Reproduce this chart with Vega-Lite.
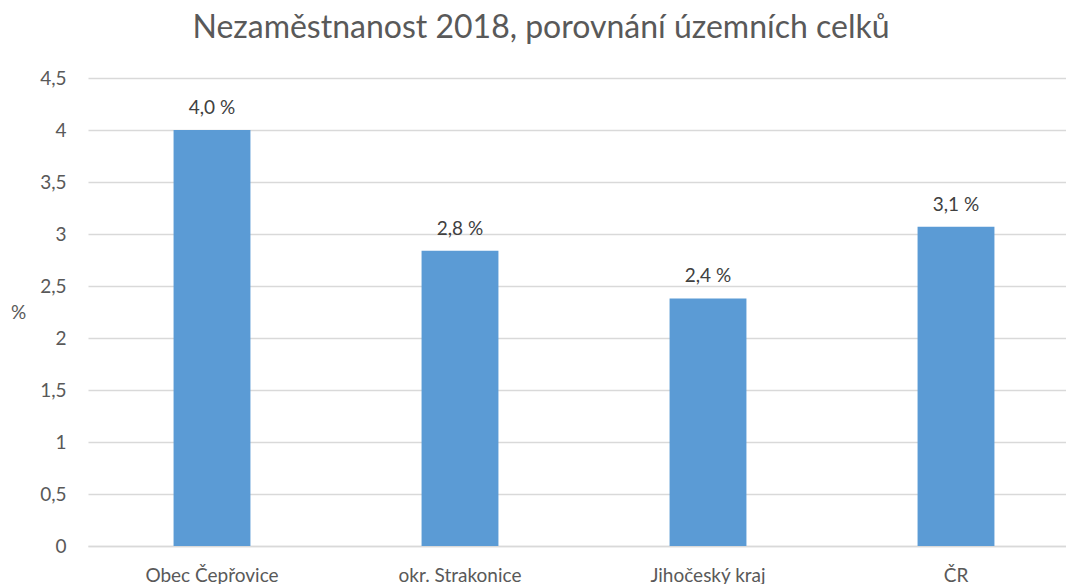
{
  "$schema": "https://vega.github.io/schema/vega-lite/v6.json",
  "autosize": "none",
  "width": 992,
  "height": 468,
  "padding": {"left": 88, "top": 78, "right": 0, "bottom": 38},
  "background": "white",
  "title": {
    "text": "Nezaměstnanost 2018, porovnání územních celků",
    "font": "Lato",
    "fontSize": 32,
    "fontWeight": "normal",
    "color": "#595959",
    "anchor": "middle",
    "frame": "group",
    "dx": -43,
    "offset": 24
  },
  "data": {
    "values": [
      {"celek": "Obec Čepřovice", "hodnota": 4.0, "popisek": "4,0 %"},
      {"celek": "okr. Strakonice", "hodnota": 2.84, "popisek": "2,8 %"},
      {"celek": "Jihočeský kraj", "hodnota": 2.38, "popisek": "2,4 %"},
      {"celek": "ČR", "hodnota": 3.07, "popisek": "3,1 %"}
    ]
  },
  "encoding": {
    "x": {
      "field": "celek",
      "type": "nominal",
      "sort": null,
      "scale": {"paddingInner": 0.69, "paddingOuter": 0.345},
      "axis": {
        "title": null,
        "labelAngle": 0,
        "labelFont": "Lato",
        "labelFontSize": 19,
        "labelColor": "#595959",
        "labelPadding": 20,
        "ticks": false,
        "domainColor": "#d9d9d9",
        "domainWidth": 1.5
      }
    },
    "y": {
      "field": "hodnota",
      "type": "quantitative",
      "scale": {"domain": [0, 4.5], "nice": false},
      "axis": {
        "title": "%",
        "titleAngle": 0,
        "titleFont": "Lato",
        "titleFontSize": 19,
        "titleFontWeight": "normal",
        "titleColor": "#595959",
        "titleX": -70,
        "titleY": 234,
        "titleAlign": "center",
        "titleBaseline": "middle",
        "values": [0, 0.5, 1, 1.5, 2, 2.5, 3, 3.5, 4, 4.5],
        "labelExpr": "replace(toString(datum.value), '.', ',')",
        "labelFont": "Lato",
        "labelFontSize": 19,
        "labelColor": "#595959",
        "labelPadding": 22,
        "ticks": false,
        "domain": false,
        "gridColor": "#d9d9d9",
        "gridWidth": 1.5
      }
    }
  },
  "layer": [
    {"mark": {"type": "bar", "color": "#5b9bd5"}},
    {
      "mark": {
        "type": "text",
        "baseline": "bottom",
        "dy": -12,
        "font": "Lato",
        "fontSize": 19,
        "color": "#404040"
      },
      "encoding": {"text": {"field": "popisek"}}
    }
  ],
  "config": {"view": {"stroke": null}}
}
